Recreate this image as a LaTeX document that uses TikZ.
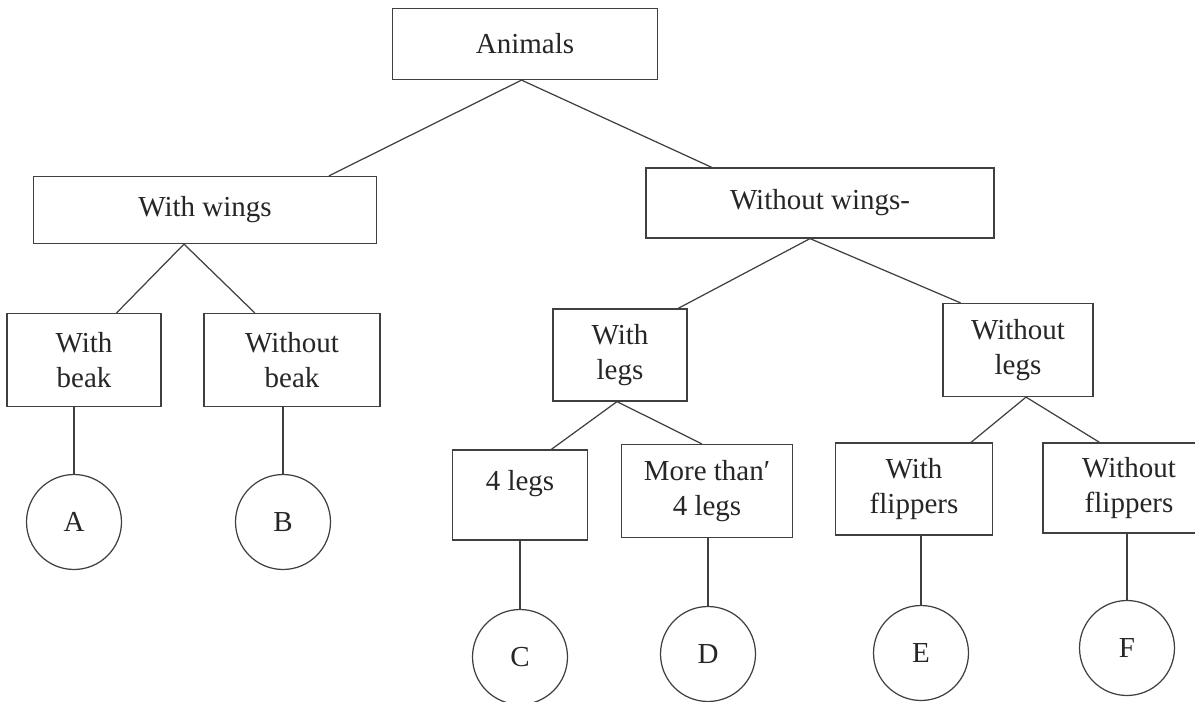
\documentclass[tikz,border=0pt]{standalone}
\usepackage{fontspec}
\setmainfont{Liberation Serif}
\usetikzlibrary{calc}
\def\branch(#1)(#2)(#3){\draw[link] (#1) -- ($(#2.north west)!#3!(#2.north east)$);}

\begin{document}
\begin{tikzpicture}[x=0.02cm,y=-0.02cm,
	box/.style={draw=black!75, line width=0.7pt, rectangle, align=center, inner sep=2pt, text=black!85, font=\fontsize{16.5}{20}\selectfont},
	leaf/.style={draw=black!75, line width=0.7pt, circle, minimum size=1.9cm, inner sep=0pt, text=black!85, font=\fontsize{16.5}{20}\selectfont},
	link/.style={draw=black!75, line width=0.7pt}]
			%%%%% START %%%%%
			\useasboundingbox[fill=white] (0,0) rectangle (1195,702);
			
			\node[box, minimum width=5.3cm, minimum height=1.42cm] (animals) at (525, 44) {Animals};
			
			\node[box, minimum width=6.86cm, minimum height=1.34cm] (wwings) at (205, 210) {With wings};
			\node[box, minimum width=6.96cm, minimum height=1.4cm] (wowings) at (820, 203) {Without wings-};
			
			\node[box, minimum width=3.08cm, minimum height=1.86cm] (wbeak) at (84, 360) {With\\beak};
			\node[box, minimum width=3.52cm, minimum height=1.86cm] (wobeak) at (292, 360) {Without\\beak};
			\node[box, minimum width=2.68cm, minimum height=1.84cm] (wlegs) at (620, 355) {With\\legs};
			\node[box, minimum width=3.0cm, minimum height=1.86cm] (wolegs) at (1018, 350) {Without\\legs};
			
			\node[box, minimum width=2.7cm, minimum height=1.8cm, text depth=0.6cm] (four) at (520, 495) {4 legs};
			\node[box, minimum width=3.42cm, minimum height=1.86cm] (more) at (707, 491) {More than′\\4 legs};
			\node[box, minimum width=3.14cm, minimum height=1.84cm] (wflip) at (914, 489) {With\\flippers};
			\node[box, minimum width=3.44cm, minimum height=1.8cm] (woflip) at (1129, 488) {Without\\flippers};
			
			\node[leaf] (cA) at (74, 522) {A};
			\node[leaf] (cB) at (283, 522) {B};
			\node[leaf] (cC) at (520, 657) {C};
			\node[leaf] (cD) at (708, 654) {D};
			\node[leaf] (cE) at (921, 653) {E};
			\node[leaf] (cF) at (1127, 648) {F};
			
			\branch([xshift=-0.07cm]animals.south)(wwings)(0.86)
			\branch([xshift=-0.07cm]animals.south)(wowings)(0.19)
			\branch([xshift=-0.42cm]wwings.south)(wbeak)(0.71)
			\branch([xshift=-0.42cm]wwings.south)(wobeak)(0.29)
			\branch([xshift=-0.2cm]wowings.south)(wlegs)(0.93)
			\branch([xshift=-0.2cm]wowings.south)(wolegs)(0.12)
			\branch([xshift=-0.06cm]wlegs.south)(four)(0.73)
			\branch([xshift=-0.06cm]wlegs.south)(more)(0.47)
			\branch([xshift=0.16cm]wolegs.south)(wflip)(0.86)
			\branch([xshift=0.16cm]wolegs.south)(woflip)(0.33)
			
			\draw[link] (cA.north |- wbeak.south) -- (cA.north);
			\draw[link] (cB.north |- wobeak.south) -- (cB.north);
			\draw[link] (cC.north |- four.south) -- (cC.north);
			\draw[link] (cD.north |- more.south) -- (cD.north);
			\draw[link] (cE.north |- wflip.south) -- (cE.north);
			\draw[link] (cF.north |- woflip.south) -- (cF.north);
			
			%%%%% END %%%%%
\end{tikzpicture}
\end{document}
